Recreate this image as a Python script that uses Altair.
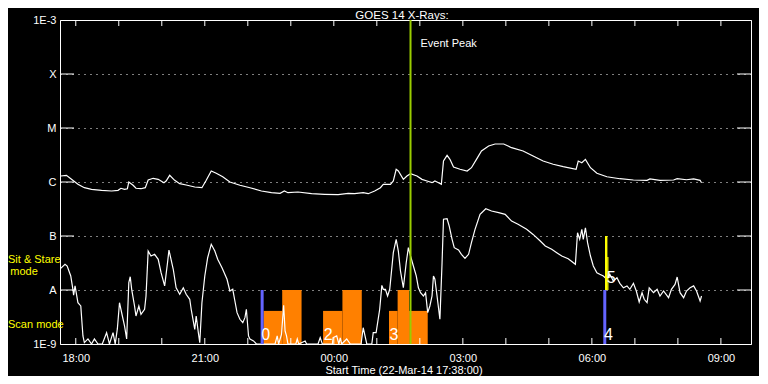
import altair as alt
import pandas as pd

# ------------------------------------------------------------------ data
# time axis: minutes since the start time 22-Mar-14 17:38:00
START_TEXT = "Start Time (22-Mar-14 17:38:00)"
TITLE = "GOES 14 X-Rays:"

# GOES long channel (1-8 A), flux in units of 1e-6 W/m^2
long_t = [1, 9, 16, 25, 34, 44, 58, 72, 81, 85, 90, 94, 96, 102, 106, 113, 119, 123, 130,
          137, 145, 148, 153, 160, 167, 176, 188, 198, 204, 211, 218, 227, 237, 251, 265,
          281, 295, 307, 313, 318, 332, 351, 369, 388, 402, 411, 423, 430, 439, 447, 451,
          461, 465, 469, 472, 479, 484, 489, 498, 505, 512, 519, 523, 528, 532, 535, 540,
          544, 549, 558, 568, 574, 581, 588, 598, 607, 619, 630, 646, 660, 674, 688, 702,
          720, 723, 728, 733, 740, 749, 763, 781, 800, 819, 823, 837, 856, 861, 874, 884,
          893, 895]
long_flux_u = [1.29, 1.33, 1.12, 0.906, 0.784, 0.732, 0.702, 0.681, 0.702, 0.765, 0.732,
               0.75, 1.0, 0.869, 0.765, 0.751, 0.784, 1.089, 1.171, 1.12, 0.971, 1.044,
               1.33, 1.075, 0.93, 0.88, 0.808, 0.784, 1.075, 1.598, 1.449, 1.253, 1.0,
               0.869, 0.784, 0.681, 0.634, 0.618, 0.681, 0.634, 0.653, 0.607, 0.592, 0.582,
               0.618, 0.607, 0.634, 0.607, 0.681, 0.784, 0.906, 0.906, 1.044, 1.719, 1.598,
               1.12, 1.29, 1.425, 1.29, 1.12, 1.044, 0.971, 1.044, 0.971, 0.906, 2.45, 3.12,
               2.63, 1.9, 1.72, 1.6, 1.84, 2.63, 3.75, 4.64, 5.06, 5.06, 4.32, 3.75, 3.03,
               2.45, 2.13, 1.92, 1.72, 2.45, 2.28, 2.63, 1.84, 1.45, 1.25, 1.15, 1.09, 1.075,
               1.14, 1.075, 1.09, 1.15, 1.10, 1.14, 1.075, 0.971]

# GOES short channel (0.5-4 A), flux in units of 1e-8 W/m^2 (0.1 = bottom of plot)
short_t = [1, 7, 10, 15, 18, 19, 21, 25, 29, 31, 32, 34, 39, 44, 48, 53, 59, 65, 69, 74, 77,
           80, 83, 87, 90, 93, 96, 98, 100, 104, 106, 110, 113, 118, 120, 123, 127, 132, 137,
           141, 146, 150, 152, 158, 162, 167, 172, 176, 181, 183, 188, 190, 193, 195, 198,
           202, 206, 211, 216, 220, 226, 233, 237, 241, 244, 247, 251, 255, 258, 260, 263,
           265, 270, 274, 300, 303, 305, 309, 312, 314, 316, 318, 329, 331, 333, 342, 344,
           360, 363, 366, 380, 381, 386, 389, 391, 393, 400, 405, 420, 423, 428, 435, 437,
           441, 446, 449, 451, 454, 457, 460, 465, 469, 472, 475, 479, 483, 486, 489, 493,
           497, 500, 503, 507, 510, 513, 516, 519, 521, 523, 526, 530, 533, 535, 540, 543,
           547, 550, 556, 560, 565, 570, 574, 579, 586, 594, 602, 612, 621, 630, 639, 651,
           660, 670, 677, 686, 693, 700, 709, 719, 722, 725, 728, 730, 733, 736, 740, 744,
           749, 753, 758, 763, 767, 772, 777, 781, 786, 791, 795, 800, 804, 808, 812, 815,
           819, 822, 828, 833, 837, 842, 849, 853, 858, 861, 865, 870, 874, 879, 884, 888,
           893, 895]
short_flux_u = [2.52, 2.99, 2.78, 1.82, 1.03, 0.80, 1.19, 0.582, 0.506, 0.216, 0.141, 0.106,
                0.124, 0.1, 0.124, 0.1, 0.1, 0.162, 0.1, 0.162, 0.1, 0.19, 0.582, 0.33, 0.216,
                0.124, 1.365, 1.76, 1.03, 0.506, 0.33, 0.506, 0.355, 0.44, 0.774, 5.27, 4.26,
                4.58, 3.7, 2.09, 1.19, 3.2, 5.5, 2.42, 1.10, 0.833, 1.10, 0.833, 0.673, 0.44,
                0.187, 0.33, 0.162, 0.106, 0.582, 1.82, 3.96, 7.02, 5.27, 3.7, 2.59, 1.58,
                0.958, 1.03, 0.626, 0.38, 0.287, 0.248, 0.307, 0.44, 0.141, 0.124, 0.114, 0.1,
                0.1, 0.141, 0.1, 0.15, 0.52, 0.174, 0.141, 0.1, 0.1, 0.124, 0.1, 0.114, 0.1,
                0.1, 0.131, 0.1, 0.1, 0.131, 0.141, 0.1, 0.13, 0.1, 0.124, 0.1, 0.1, 0.2, 0.1,
                0.1, 0.162, 0.162, 0.44, 1.22, 1.03, 1.03, 0.774, 1.03, 4.91, 8.69, 5.27, 2.25,
                1.10, 3.2, 6.07, 4.26, 2.78, 1.82, 1.10, 0.891, 0.774, 0.891, 0.38, 0.506,
                0.774, 1.82, 1.58, 0.774, 0.287, 3.2, 20.4, 20.9, 15.3, 8.69, 6.07, 5.5, 4.58,
                3.86, 4.58, 7.52, 13.3, 25.2, 32.0, 29.0, 27.0, 25.2, 18.9, 16.5, 13.3, 10.7,
                8.08, 6.53, 5.67, 4.91, 4.26, 3.8, 2.99, 11.5, 8.69, 13.3, 8.69, 14.2, 7.52,
                4.26, 2.78, 2.09, 1.95, 1.82, 1.58, 1.95, 1.47, 1.69, 1.33, 1.10, 1.19, 1.03,
                1.33, 0.958, 0.6, 0.891, 0.673, 0.582, 1.10, 0.891, 1.03, 0.774, 0.958, 0.72,
                1.03, 1.27, 1.74, 0.891, 0.72, 0.958, 1.10, 1.19, 0.958, 0.626, 0.774]

# observing-mode blocks (orange)
mode_start = [284, 310, 367, 394, 459, 471, 487]
mode_end = [310, 337, 394, 421, 471, 487, 513]
mode_top = [4.1e-9, 1e-8, 4.1e-9, 1e-8, 4.1e-9, 1e-8, 4.1e-9]

# observation markers
blue_t = [282, 760]
blue_from = [1e-9, 1e-9]
blue_to = [1e-8, 1e-8]
yellow_t = [762, 764.3]
yellow_from = [1e-8, 1e-8]
yellow_to = [1e-7, 4.1e-8]
yellow_width = [2.4, 1.2]

obs_labels = ["0", "2", "3", "4", "5"]
obs_label_t = [287, 374, 466, 765, 769]
obs_label_flux = [1.2e-9, 1.2e-9, 1.2e-9, 1.2e-9, 1.35e-8]

peak_t = [489]
peak_text = ["Event Peak"]

# axes
level_values = [1e-9, 1e-8, 1e-7, 1e-6, 1e-5, 1e-4, 1e-3]
level_labels = ["1E-9", "A", "B", "C", "M", "X", "1E-3"]
hour_ticks = [22, 82, 142, 202, 262, 322, 382, 442, 502, 562, 622, 682, 742, 802, 862, 922]
label_ticks = [22, 202, 382, 562, 742, 922]

# ------------------------------------------------------------------ chart
W, H = 691, 324
FONT = "Liberation Sans"

x_scale = alt.Scale(domain=[0, 964], nice=False, zero=False)
y_scale = alt.Scale(type="log", domain=[1e-9, 1e-3], nice=False)

x_axis = alt.Axis(values=label_ticks,
                  labelExpr="utcFormat(utc(2014, 2, 22, 17, 38 + datum.value), '%H:%M')",
                  ticks=False, tickSize=0, domain=False, grid=False, labelPadding=8,
                  labelColor="white", labelFont=FONT, labelFontSize=11, title=None,
                  labelFlush=False, labelOverlap=False)

y_expr = "'" + level_labels[-1] + "'"
for v, lab in reversed(list(zip(level_values[:-1], level_labels[:-1]))):
    y_expr = f"datum.value < {v * 3} ? '{lab}' : ({y_expr})"

y_axis = alt.Axis(values=level_values, labelExpr=y_expr, ticks=False, tickSize=0,
                  domain=False, grid=True, gridColor="white", gridDash=[1, 5],
                  gridWidth=1, labelPadding=4, labelColor="white", labelFont=FONT,
                  labelFontSize=11, title=None, labelFlush=False, labelOverlap=False)


def X(field):
    return alt.X(f"{field}:Q", scale=x_scale, axis=x_axis)


def Y(field):
    return alt.Y(f"{field}:Q", scale=y_scale, axis=y_axis)


long_df = pd.DataFrame({"t": long_t, "flux": [v * 1e-6 for v in long_flux_u]})
short_df = pd.DataFrame({"t": short_t, "flux": [v * 1e-8 for v in short_flux_u]})
mode_df = pd.DataFrame({"t": mode_start, "t2": mode_end, "flux": mode_top})
blue_df = pd.DataFrame({"t": blue_t, "flux": blue_from, "flux2": blue_to})
yellow_df = pd.DataFrame({"t": yellow_t, "flux": yellow_from, "flux2": yellow_to,
                          "w": yellow_width})
lab_df = pd.DataFrame({"t": obs_label_t, "flux": obs_label_flux, "txt": obs_labels})
peak_df = pd.DataFrame({"t": peak_t, "txt": peak_text})
ytick_df = pd.DataFrame({"flux": level_values[1:-1]})
xtick_df = pd.DataFrame({"t": hour_ticks})

modes = alt.Chart(mode_df).mark_rect(color="#ff8000").encode(
    x=X("t"), x2="t2", y=Y("flux"), y2=alt.value(H))

long_line = alt.Chart(long_df).mark_line(color="white", strokeWidth=1.2, clip=True).encode(
    x=X("t"), y=Y("flux"))
short_line = alt.Chart(short_df).mark_line(color="white", strokeWidth=1.2, clip=True).encode(
    x=X("t"), y=Y("flux"))

blue = alt.Chart(blue_df).mark_rule(color="#6464ff", strokeWidth=3).encode(
    x=X("t"), y=Y("flux"), y2="flux2")
yellow = alt.Chart(yellow_df).mark_rule(color="#ffff00").encode(
    x=X("t"), y=Y("flux"), y2="flux2",
    strokeWidth=alt.StrokeWidth("w:Q", scale=None, legend=None))

peak = alt.Chart(peak_df).mark_rule(color="#9acd00", strokeWidth=2).encode(
    x=X("t"), y=alt.value(0), y2=alt.value(H))
peak_txt = alt.Chart(peak_df).mark_text(
    color="white", font=FONT, fontSize=11, align="left", baseline="alphabetic", dx=10
).encode(x=X("t"), y=alt.value(27), text="txt:N")

ytick_l = alt.Chart(ytick_df).mark_rule(color="white").encode(
    y=Y("flux"), x=alt.value(0), x2=alt.value(14))
ytick_r = alt.Chart(ytick_df).mark_rule(color="white").encode(
    y=Y("flux"), x=alt.value(W - 14), x2=alt.value(W))
xtick_b = alt.Chart(xtick_df).mark_rule(color="white").encode(
    x=X("t"), y=alt.value(H - 6), y2=alt.value(H))
xtick_t = alt.Chart(xtick_df).mark_rule(color="white").encode(
    x=X("t"), y=alt.value(0), y2=alt.value(6))

obs_txt = alt.Chart(lab_df).mark_text(
    color="white", font=FONT, fontSize=16, align="center", baseline="alphabetic"
).encode(x=X("t"), y=Y("flux"), text="txt:N")


def label(txt, x, y, color="white", size=11, align="left"):
    return alt.Chart(pd.DataFrame({"txt": [txt]})).mark_text(
        color=color, font=FONT, fontSize=size, align=align, baseline="alphabetic"
    ).encode(x=alt.value(x), y=alt.value(y), text="txt:N")


title_txt = label(TITLE, 342, -1.5, size=11.5, align="center")
start_txt = label(START_TEXT, 344, 354, size=11, align="center")
sit_txt = label("Sit & Stare", -52, 243, color="#ffff00")
mode_txt = label("mode", -36, 255, color="#ffff00", align="center")
scan_txt = label("Scan mode", -52, 308, color="#ffff00")

chart = alt.layer(
    modes, long_line, short_line, blue, yellow, peak, peak_txt,
    ytick_l, ytick_r, xtick_b, xtick_t, obs_txt,
    title_txt, start_txt, sit_txt, mode_txt, scan_txt
).properties(
    width=W, height=H,
    autosize=alt.AutoSizeParams(type="none"),
    padding={"left": 52, "top": 12, "right": 8, "bottom": 32},
    background="black",
).configure_view(stroke="white", strokeWidth=1)

chart.save("out.html", embed_options={"renderer": "svg", "actions": False})
